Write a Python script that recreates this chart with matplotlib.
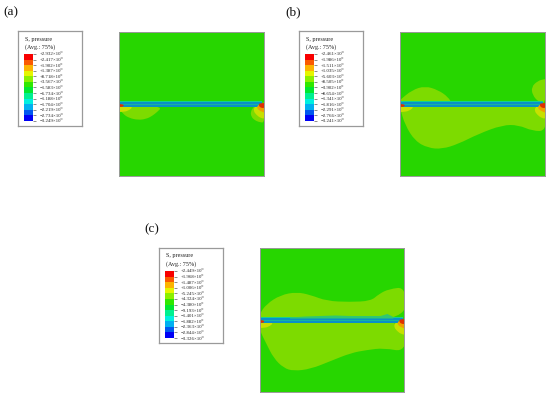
import numpy as np
import matplotlib
matplotlib.use('Agg')
import matplotlib.pyplot as plt
from matplotlib.patches import PathPatch
from matplotlib.path import Path

plt.rcParams['font.family'] = ['Liberation Serif', 'DejaVu Serif']

W, H = 550, 398

# legend colours, top to bottom
legend_colors = ['#F80000', '#FA5A00', '#FCB400', '#E6F500', '#8CF000', '#30E800',
                 '#00E830', '#00F090', '#00F0E0', '#00B0F0', '#0058F0', '#0000F5']

labels_a = ['+2.932', '+2.417', '+1.902', '+1.387', '+8.718', '+3.567', '\u22121.583',
            '\u22126.734', '\u22121.188', '\u22121.704', '\u22122.219', '\u22122.734', '\u22123.249']
labels_b = ['+2.461', '+1.986', '+1.511', '+1.035', '+5.603', '+8.505', '\u22123.902',
            '\u22128.654', '\u22121.341', '\u22121.816', '\u22122.291', '\u22122.766', '\u22123.241']
labels_c = ['+2.449', '+1.968', '+1.487', '+1.006', '+5.245', '+4.324', '\u22124.380',
            '\u22129.193', '\u22121.401', '\u22121.882', '\u22122.363', '\u22122.844', '\u22123.326']

BG = '#27D600'
LOBE = '#7DDB00'
YEL = '#C8E000'
ORG = '#F0A000'
RED = '#E03000'

# contour outlines, panel pixels (0-144, y down)
a_left_x = [-2, 0, 4, 10, 19, 27, 33, 38, 43, 20, -2]
a_left_y = [72, 76, 82, 86, 88, 87, 84, 80, 75, 72, 72]
a_right_x = [146, 138, 134, 131, 132, 135, 139, 146, 146]
a_right_y = [70, 72, 75, 80, 85, 88, 90, 91, 70]

b_ul_x = [-2, 0, 12, 25, 38, 48, 52, 25, -2]
b_ul_y = [70, 68, 58, 54, 58, 65, 72, 72, 70]
b_ur_x = [146, 144, 137, 131, 132, 138, 146, 146]
b_ur_y = [47, 47, 49, 55, 63, 70, 72, 47]
b_lo_x = [-2, 0, 5, 15, 28, 42, 58, 78, 102, 118, 132, 146, 146, 70, -2]
b_lo_y = [70, 76, 93, 109, 116, 117, 112, 102, 93, 93, 99, 99, 72, 72, 70]

c_up_x = [-2, 0, 7, 21, 37, 51, 67, 90, 111, 119, 129, 146, 146, 70, -2]
c_up_y = [72, 66, 56, 47, 44, 47, 53, 54, 53, 46, 41, 39, 72, 72, 72]
c_lo_x = [-2, 0, 7, 14, 24, 34, 51, 71, 91, 107, 124, 146, 146, 70, -2]
c_lo_y = [72, 82, 96, 110, 120, 123, 121, 113, 105, 102, 100, 104, 72, 72, 72]

# hot spots at the band ends
hot_left_x = [-1, 5, 10, 14, 9, 3, -1]
hot_left_y = [74, 74, 75, 75, 79, 80, 80]
hot_right_x = [146, 139, 135, 134, 137, 141, 146, 146]
hot_right_y = [72, 72, 75, 79, 83, 86, 87, 72]
org_right_x = [146, 140, 137, 139, 143, 146, 146]
org_right_y = [72, 72, 75, 78, 80, 81, 72]
red_right_x = [146, 140, 139, 141, 146, 146]
red_right_y = [71, 71, 73, 76, 76, 71]
red_left_x = [-1, 4, 5, 3, -1]
red_left_y = [72, 72, 74, 75, 75]

# band layers: top edge, bottom edge, colour
layer_top = [68.5, 69.5, 71.5]
layer_bot = [75.0, 74.5, 72.5]
layer_colors = ['#14D090', '#0A90C8', '#14B4A0']

c_bump_x = [30, 45, 60, 75, 90, 105, 120, 127, 133]
c_bump_y = [69, 68, 67.5, 67, 67.5, 67.5, 67.5, 65.5, 68.5]


def px_axes(left, top, right, bottom):
    return plt.gcf().add_axes([left / W, 1 - bottom / H, (right - left) / W, (bottom - top) / H])


def smooth_fill(ax, xs, ys, color):
    # quadratic curves through the outline points, so contours look rounded
    pts = np.column_stack([xs, ys])
    verts = [pts[0]]
    codes = [Path.MOVETO]
    for i in range(1, len(pts) - 1):
        end = pts[i + 1] if i == len(pts) - 2 else (pts[i] + pts[i + 1]) / 2
        verts += [pts[i], end]
        codes += [Path.CURVE3, Path.CURVE3]
    verts.append(pts[0])
    codes.append(Path.CLOSEPOLY)
    ax.add_patch(PathPatch(Path(verts, codes), facecolor=color, edgecolor='none', lw=0))


def draw_panel(left, top, lobes):
    ax = px_axes(left, top, left + 144.5, top + 144)
    ax.set_xlim(0, 144)
    ax.set_ylim(144, 0)
    ax.set_facecolor(BG)
    ax.set_xticks([])
    ax.set_yticks([])
    for s in ax.spines.values():
        s.set_color('#9a9a9a')
        s.set_linewidth(0.7)
    for lx, ly in lobes:
        smooth_fill(ax, lx, ly, LOBE)
    smooth_fill(ax, hot_left_x, hot_left_y, YEL)
    smooth_fill(ax, hot_right_x, hot_right_y, YEL)
    for top_y, bot_y, col in zip(layer_top, layer_bot, layer_colors):
        ax.fill_between([1, 143], top_y, bot_y, color=col, lw=0)
    smooth_fill(ax, org_right_x, org_right_y, ORG)
    smooth_fill(ax, red_right_x, red_right_y, RED)
    smooth_fill(ax, red_left_x, red_left_y, RED)
    return ax


def draw_legend(left, top, labels):
    # white box with grey frame
    box = px_axes(left, top, left + 64, top + 95)
    box.set_xticks([])
    box.set_yticks([])
    for s in box.spines.values():
        s.set_color('#9a9a9a')
        s.set_linewidth(0.9)
    box.text(7 / 64, 1 - 8 / 95, 'S, pressure', transform=box.transAxes, fontsize=4.4, va='center', color='#222222')
    box.text(7 / 64, 1 - 16 / 95, '(Avg.: 75%)', transform=box.transAxes, fontsize=4.4, va='center', color='#222222')

    bar = px_axes(left + 6, top + 23, left + 14.5, top + 90)
    rgb = matplotlib.colors.to_rgba_array(legend_colors).reshape(12, 1, 4)
    bar.pcolormesh([0, 1], np.arange(13), rgb)
    bar.set_ylim(12, 0)
    bar.set_xticks([])
    bar.yaxis.tick_right()
    bar.set_yticks(np.arange(13))
    bar.set_yticklabels([t + '\u00d710\u2070' for t in labels], fontsize=3.5, color='#222222')
    bar.tick_params(axis='y', length=2.2, width=0.4, pad=3.0, color='#333333')
    for s in bar.spines.values():
        s.set_visible(False)


fig = plt.figure(figsize=(W / 100, H / 100), dpi=100)

draw_panel(119, 32, [(a_left_x, a_left_y), (a_right_x, a_right_y)])
draw_panel(400, 32, [(b_ul_x, b_ul_y), (b_ur_x, b_ur_y), (b_lo_x, b_lo_y)])
ax_c = draw_panel(259.5, 248, [(c_up_x, c_up_y), (c_lo_x, c_lo_y)])
ax_c.fill_between(c_bump_x, c_bump_y, 70, color='#30C870', lw=0)

draw_legend(18, 31, labels_a)
draw_legend(299, 31, labels_b)
draw_legend(159, 248, labels_c)

fig.text(3 / W, 1 - 12 / H, '(a)', fontsize=9.5, va='center', color='#111111')
fig.text(285 / W, 1 - 12 / H, '(b)', fontsize=9.5, va='center', color='#111111')
fig.text(144 / W, 1 - 229 / H, '(c)', fontsize=9.5, va='center', color='#111111')

fig.savefig('out.png', dpi=100)
